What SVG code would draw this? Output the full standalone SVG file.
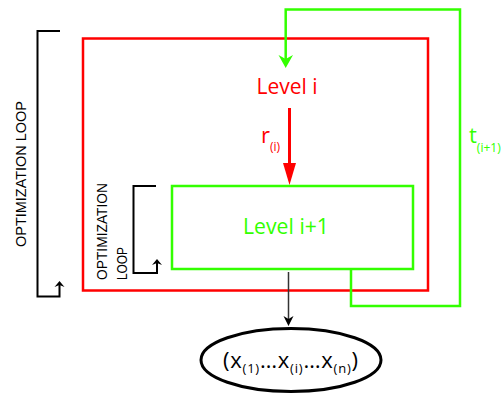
<svg xmlns="http://www.w3.org/2000/svg" width="504" height="394" viewBox="0 0 504 394">
<defs>
<style>
.red{stroke:#ff0000;fill:none;stroke-width:2.5}
.grn{stroke:#33ff00;fill:none;stroke-width:2.5}
.blk{stroke:#000;fill:none;stroke-width:2}
.lbl{font-family:"Open Sans","Liberation Sans",sans-serif}
.loop{font-family:"Liberation Sans",Arial,sans-serif;font-size:15px;fill:#000}
</style>
</defs>
<rect width="504" height="394" fill="#fff"/>
<g id="level-i">
<rect class="red" x="83" y="38.5" width="345" height="252"/>
<text class="lbl" x="287" y="94" font-size="21" fill="#ff0000" text-anchor="middle">Level i</text>
</g>
<g id="level-i1">
<rect class="grn" x="172" y="186" width="241" height="83"/>
<text class="lbl" x="286" y="234" font-size="21" fill="#33ff00" text-anchor="middle" textLength="86" lengthAdjust="spacingAndGlyphs">Level i+1</text>
</g>
<g id="result">
<ellipse cx="291" cy="360" rx="90" ry="31.5" fill="none" stroke="#000" stroke-width="3"/>
<text class="lbl" x="223" y="368" font-size="22" fill="#000" textLength="135">(x<tspan font-size="13" dy="5">(1)</tspan><tspan dy="-5">…x</tspan><tspan font-size="13" dy="5">(i)</tspan><tspan dy="-5">…x</tspan><tspan font-size="13" dy="5">(n)</tspan><tspan dy="-5">)</tspan></text>
</g>
<g id="outer-loop">
<path class="blk" d="M60,31 H37.5 V296.5 H59.5 V283"/>
<path d="M54.5,287 L59.5,281 L64.5,287 L59.5,285 Z" fill="#000"/>
<text class="loop" transform="translate(26,247) rotate(-90)" textLength="146" lengthAdjust="spacingAndGlyphs">OPTIMIZATION  LOOP</text>
</g>
<g id="inner-loop">
<path class="blk" d="M156,186 H133.5 V273 H157 V261"/>
<path d="M152,265 L157,259 L162,265 L157,263 Z" fill="#000"/>
<text class="loop" transform="translate(107,280) rotate(-90)" textLength="97" lengthAdjust="spacingAndGlyphs">OPTIMIZATION</text>
<text class="loop" transform="translate(127,280) rotate(-90)" textLength="33" lengthAdjust="spacingAndGlyphs">LOOP</text>
</g>
<g id="connectors">
<line x1="289.5" y1="108" x2="289.5" y2="170" stroke="#ff0000" stroke-width="3"/>
<path d="M283,163 L289.5,185 L296,163 Z" fill="#ff0000"/>
<text class="lbl" x="261" y="143" font-size="22" fill="#ff0000">r<tspan font-size="12" dy="8">(i)</tspan></text>
<path class="grn" d="M351,269 V306 H460 V9.5 H285.7 V60"/>
<path d="M278.5,55 L285.7,68 L293,55 L285.7,59 Z" fill="#33ff00"/>
<text class="lbl" x="469" y="143" font-size="22" fill="#33ff00">t<tspan font-size="12" dy="9">(i+1)</tspan></text>
<line x1="288.5" y1="272" x2="288.5" y2="320" stroke="#333" stroke-width="1.5"/>
<path d="M283.5,316 L288.5,326 L293.5,316 L288.5,319 Z" fill="#000"/>
</g>
</svg>
